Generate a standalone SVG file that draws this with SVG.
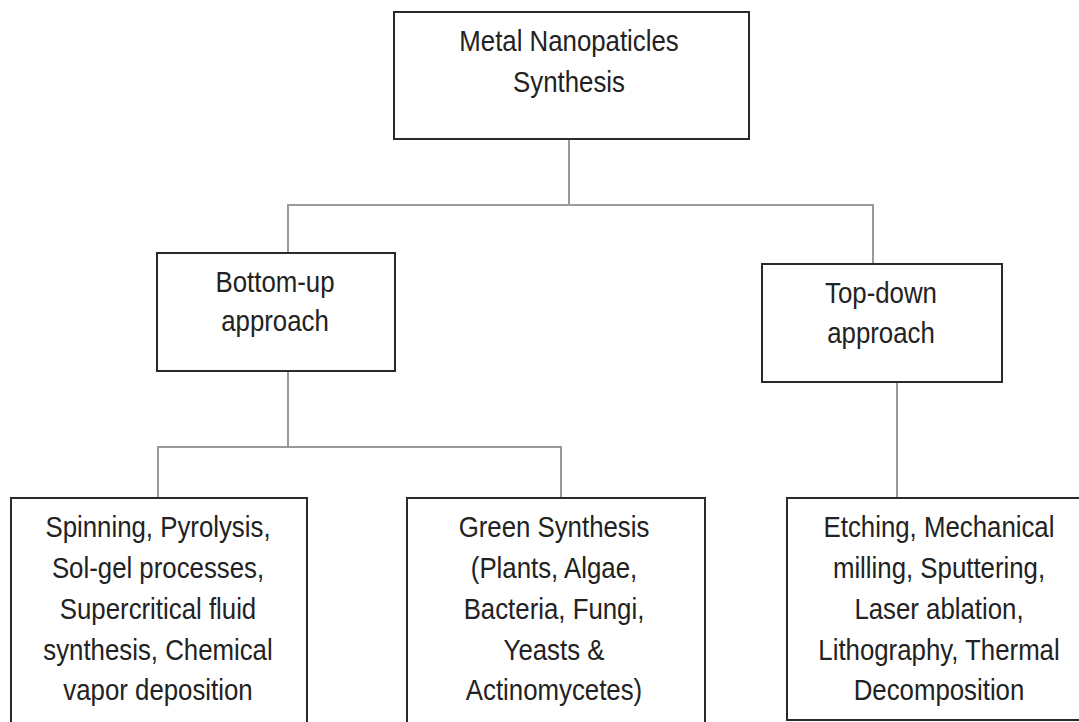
<svg xmlns="http://www.w3.org/2000/svg" width="1079" height="722" viewBox="0 0 1079 722">
<style>
.box{fill:#fff;stroke:#2a2a2a;stroke-width:2}
.lbl{font-family:"Liberation Sans",Arial,sans-serif;font-size:29px;fill:#222;text-anchor:middle}
.con{fill:none;stroke:#9a9a9a;stroke-width:2}
</style>
<rect width="1079" height="722" fill="#fff"/>
<g id="connectors">
<polyline class="con" points="569,139 569,205"/>
<polyline class="con" points="288,253 288,205 873,205 873,264"/>
<polyline class="con" points="288,371 288,447"/>
<polyline class="con" points="158,498 158,447 561,447 561,498"/>
<polyline class="con" points="897,382 897,498"/>
</g>
<g id="root">
<rect class="box" x="394" y="12" width="355" height="127"/>
<text class="lbl" transform="translate(569,51) scale(0.89,1)"><tspan x="0" y="0">Metal Nanopaticles</tspan><tspan x="0" y="41">Synthesis</tspan></text>
</g>
<g id="bottom-up">
<rect class="box" x="157" y="253" width="238" height="118"/>
<text class="lbl" transform="translate(275,292) scale(0.89,1)"><tspan x="0" y="0">Bottom-up</tspan><tspan x="0" y="39">approach</tspan></text>
</g>
<g id="top-down">
<rect class="box" x="762" y="264" width="240" height="118"/>
<text class="lbl" transform="translate(881,303) scale(0.89,1)"><tspan x="0" y="0">Top-down</tspan><tspan x="0" y="40">approach</tspan></text>
</g>
<g id="physical-chemical">
<rect class="box" x="11" y="498" width="296" height="240"/>
<text class="lbl" transform="translate(158,537) scale(0.89,1)"><tspan x="0" y="0">Spinning, Pyrolysis,</tspan><tspan x="0" y="41">Sol-gel processes,</tspan><tspan x="0" y="82">Supercritical fluid</tspan><tspan x="0" y="123">synthesis, Chemical</tspan><tspan x="0" y="163">vapor deposition</tspan></text>
</g>
<g id="green">
<rect class="box" x="407" y="498" width="298" height="240"/>
<text class="lbl" transform="translate(554,537) scale(0.89,1)"><tspan x="0" y="0">Green Synthesis</tspan><tspan x="0" y="41">(Plants, Algae,</tspan><tspan x="0" y="82">Bacteria, Fungi,</tspan><tspan x="0" y="123">Yeasts &amp;</tspan><tspan x="0" y="163">Actinomycetes)</tspan></text>
</g>
<g id="top-down-methods">
<rect class="box" x="787" y="498" width="305" height="222"/>
<text class="lbl" transform="translate(939,537) scale(0.89,1)"><tspan x="0" y="0">Etching, Mechanical</tspan><tspan x="0" y="41">milling, Sputtering,</tspan><tspan x="0" y="82">Laser ablation,</tspan><tspan x="0" y="123">Lithography, Thermal</tspan><tspan x="0" y="163">Decomposition</tspan></text>
</g>
</svg>
